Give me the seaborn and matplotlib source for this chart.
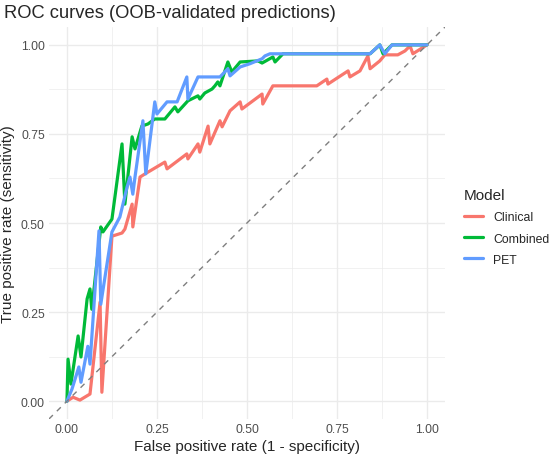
import numpy as np
import pandas as pd
import matplotlib
matplotlib.use("Agg")
import matplotlib.pyplot as plt
import seaborn as sns
from matplotlib.ticker import MultipleLocator, FormatStrFormatter

# ROC points (false positive rate, true positive rate)
clinical_fpr = [0.000, 0.017, 0.036, 0.064, 0.092, 0.097, 0.125, 0.153, 0.161, 0.181,
                0.183, 0.203, 0.217, 0.272, 0.278, 0.333, 0.336, 0.364, 0.369, 0.392,
                0.397, 0.425, 0.431, 0.453, 0.481, 0.486, 0.542, 0.544, 0.572, 0.694,
                0.722, 0.725, 0.781, 0.786, 0.814, 0.836, 0.842, 0.869, 0.883, 0.919,
                0.939, 0.953, 0.961, 1.000]
clinical_tpr = [0.000, 0.011, 0.003, 0.020, 0.278, 0.025, 0.463, 0.472, 0.483, 0.553,
                0.489, 0.629, 0.638, 0.671, 0.652, 0.694, 0.680, 0.722, 0.699, 0.772,
                0.722, 0.787, 0.770, 0.815, 0.840, 0.820, 0.862, 0.834, 0.885, 0.885,
                0.904, 0.890, 0.927, 0.910, 0.927, 0.969, 0.933, 0.955, 0.972, 0.972,
                0.983, 0.997, 0.975, 1.000]

combined_fpr = [0.000, 0.003, 0.011, 0.031, 0.039, 0.056, 0.064, 0.069, 0.094, 0.100,
                0.125, 0.153, 0.161, 0.181, 0.189, 0.208, 0.225, 0.244, 0.272, 0.300,
                0.308, 0.336, 0.364, 0.369, 0.383, 0.403, 0.411, 0.419, 0.425, 0.447,
                0.458, 0.481, 0.531, 0.542, 0.572, 0.578, 0.600, 0.842, 0.869, 0.878,
                0.903, 1.000]
combined_tpr = [0.000, 0.118, 0.048, 0.183, 0.124, 0.287, 0.315, 0.258, 0.489, 0.475,
                0.511, 0.722, 0.553, 0.742, 0.708, 0.772, 0.778, 0.792, 0.792, 0.826,
                0.812, 0.843, 0.857, 0.848, 0.865, 0.876, 0.885, 0.896, 0.885, 0.952,
                0.924, 0.952, 0.955, 0.949, 0.966, 0.952, 0.975, 0.975, 1.000, 0.975,
                1.000, 1.000]

pet_fpr = [0.000, 0.014, 0.033, 0.039, 0.058, 0.064, 0.089, 0.094, 0.125, 0.147,
           0.167, 0.175, 0.183, 0.189, 0.211, 0.219, 0.244, 0.250, 0.278, 0.306,
           0.333, 0.336, 0.364, 0.425, 0.447, 0.453, 0.481, 0.508, 0.542, 0.550,
           0.564, 0.842, 0.869, 0.883, 0.903, 1.000]
pet_tpr = [0.000, 0.034, 0.096, 0.053, 0.154, 0.104, 0.478, 0.272, 0.475, 0.517,
           0.601, 0.629, 0.581, 0.629, 0.787, 0.638, 0.840, 0.806, 0.840, 0.840,
           0.910, 0.848, 0.910, 0.910, 0.933, 0.913, 0.938, 0.947, 0.961, 0.969,
           0.975, 0.975, 1.000, 0.975, 1.000, 1.000]

models = ["Clinical", "Combined", "PET"]
model_colors = {"Clinical": "#F8766D", "Combined": "#00BA38", "PET": "#619CFF"}

frames = []
for name, fpr, tpr in zip(models, [clinical_fpr, combined_fpr, pet_fpr],
                          [clinical_tpr, combined_tpr, pet_tpr]):
    frames.append(pd.DataFrame({"fpr": fpr, "tpr": tpr, "Model": name,
                                "order": np.arange(len(fpr))}))
roc = pd.concat(frames, ignore_index=True)

sns.set_style("white")
plt.rcParams["font.family"] = ["Liberation Sans", "DejaVu Sans"]

fig = plt.figure(figsize=(5.5, 4.6), dpi=100)
ax = fig.add_axes([0.089, 0.087, 0.72, 0.852])

sns.lineplot(data=roc, x="fpr", y="tpr", hue="Model", hue_order=models,
             palette=model_colors, sort=False, estimator=None, units="Model",
             linewidth=2.3, ax=ax, zorder=3, solid_joinstyle="round")
ax.axline((0, 0), slope=1, color="#7F7F7F", linestyle=(0, (4, 4)), linewidth=1.0, zorder=4)

ax.set_xlim(-0.05, 1.05)
ax.set_ylim(-0.05, 1.05)
ax.xaxis.set_major_locator(MultipleLocator(0.25))
ax.yaxis.set_major_locator(MultipleLocator(0.25))
ax.xaxis.set_minor_locator(MultipleLocator(0.125))
ax.yaxis.set_minor_locator(MultipleLocator(0.125))
ax.xaxis.set_major_formatter(FormatStrFormatter("%.2f"))
ax.yaxis.set_major_formatter(FormatStrFormatter("%.2f"))
ax.grid(which="major", color="#EBEBEB", linewidth=1.0)
ax.grid(which="minor", color="#EBEBEB", linewidth=0.5)
ax.set_axisbelow(True)
for s in ax.spines.values():
    s.set_visible(False)
ax.tick_params(which="both", length=0, labelsize=8.8, labelcolor="#4D4D4D", pad=3)

ax.set_xlabel("False positive rate (1 - specificity)", fontsize=11, labelpad=3)
ax.set_ylabel("True positive rate (sensitivity)", fontsize=11, labelpad=4)
fig.text(0.008, 1 - 14 / 460, "ROC curves (OOB-validated predictions)",
         fontsize=13.2, ha="left", va="center")

leg = ax.legend(title="Model", loc="center left", bbox_to_anchor=(1.02, 0.49),
                frameon=False, fontsize=8.8, title_fontsize=11, handlelength=1.6,
                labelspacing=0.75, alignment="left")
for line in leg.get_lines():
    line.set_linewidth(2.3)

fig.savefig("out.png", dpi=100)
